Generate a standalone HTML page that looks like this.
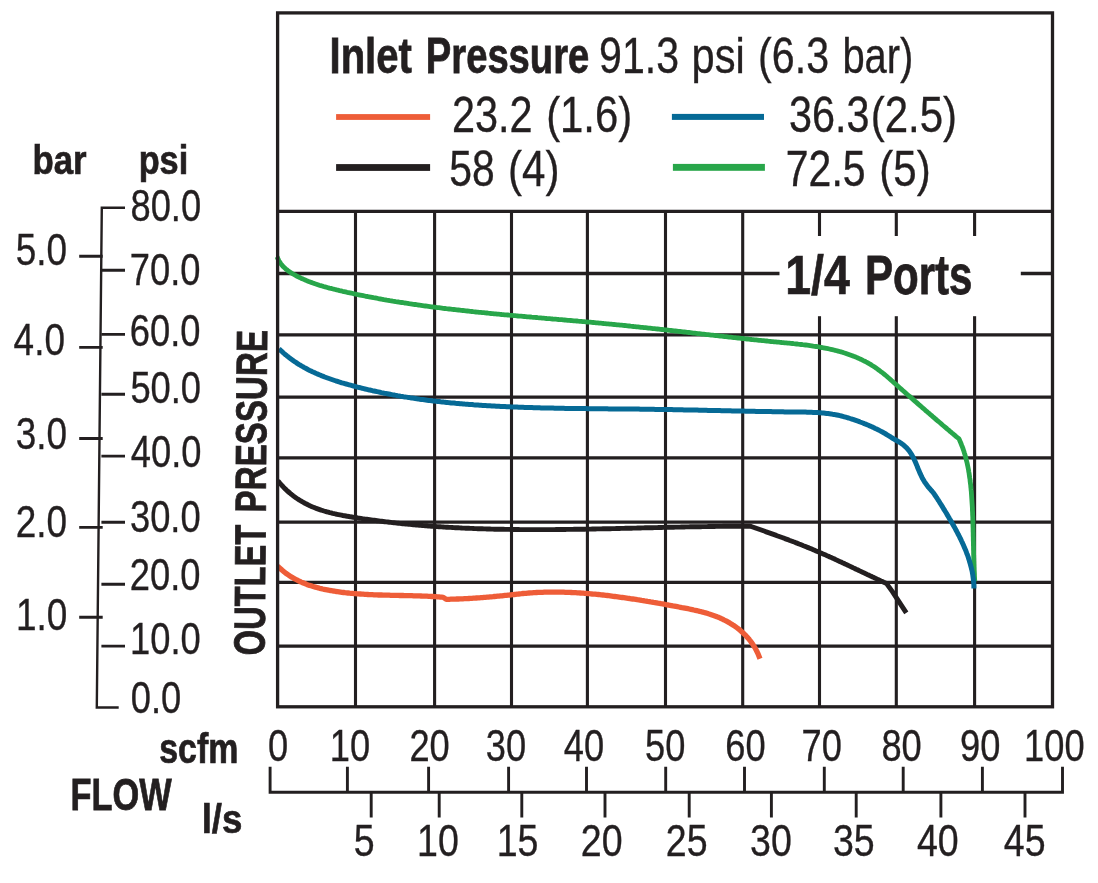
<!DOCTYPE html><html><head><meta charset="utf-8"><title>Outlet pressure vs flow - 1/4 Ports</title><style>html,body{margin:0;padding:0;background:#fff;}svg{display:block;font-family:"Liberation Sans",Arial,sans-serif;font-kerning:none;}text{fill:#231f20;}</style></head><body>
<svg width="1098" height="883" viewBox="0 0 1098 883">
<rect width="1098" height="883" fill="#fff"/>
<path d="M355.5 211.4 V706.7 M434.6 211.4 V706.7 M511.5 211.4 V706.7 M587.4 211.4 V706.7 M665.5 211.4 V706.7 M742.7 211.4 V706.7 M819.5 211.4 V706.7 M896.3 211.4 V706.7 M974.6 211.4 V706.7" stroke="#231f20" stroke-width="3.1" fill="none"/>
<path d="M277.5 646.2 H1052.4 M277.5 582.4 H1052.4 M277.5 522.2 H1052.4 M277.5 457.9 H1052.4 M277.5 397.2 H1052.4 M277.5 334.9 H1052.4 M277.5 273.5 H1052.4 M277.5 211.4 H1052.4" stroke="#231f20" stroke-width="3.3" fill="none"/>
<rect x="779.5" y="236" width="241.3" height="80.2" fill="#fff"/>
<text transform="translate(785.27 294.00) scale(0.8432 1)" font-size="55.09" font-weight="bold" stroke="#231f20" stroke-width="0.71">1/4</text>
<text transform="translate(864.88 294.00) scale(0.7644 1)" font-size="55.09" font-weight="bold" stroke="#231f20" stroke-width="0.78">Ports</text>
<g fill="none" stroke-linejoin="round">
<path d="M277.7 566.1 L278.8 567.2 L279.9 568.2 L281.1 569.3 L282.2 570.3 L283.4 571.3 L284.6 572.2 L285.8 573.2 L287.0 574.0 L288.3 574.9 L289.5 575.7 L290.8 576.6 L292.1 577.3 L293.4 578.1 L294.7 578.8 L296.0 579.5 L297.3 580.2 L298.6 580.9 L300.0 581.5 L301.3 582.1 L302.7 582.7 L304.1 583.3 L305.4 583.8 L306.8 584.4 L308.2 584.9 L309.6 585.4 L311.1 585.8 L312.5 586.3 L313.9 586.7 L315.4 587.1 L316.8 587.5 L318.3 587.9 L319.7 588.3 L321.2 588.6 L322.6 589.0 L324.1 589.3 L325.6 589.6 L327.1 589.9 L328.5 590.2 L330.0 590.5 L331.5 590.7 L333.0 591.0 L334.5 591.2 L336.0 591.5 L337.5 591.7 L339.0 591.9 L340.5 592.1 L342.0 592.3 L343.5 592.5 L345.0 592.7 L346.5 592.8 L348.0 593.0 L349.6 593.2 L351.1 593.3 L352.6 593.4 L354.1 593.6 L355.6 593.7 L357.1 593.8 L358.7 593.9 L360.2 594.0 L361.7 594.2 L363.2 594.2 L364.8 594.3 L366.3 594.4 L367.8 594.5 L369.3 594.6 L370.9 594.7 L372.4 594.7 L373.9 594.8 L375.4 594.8 L377.0 594.9 L378.5 595.0 L380.0 595.0 L381.5 595.0 L383.1 595.1 L384.6 595.1 L386.1 595.2 L387.6 595.2 L389.2 595.2 L390.7 595.3 L392.2 595.3 L393.7 595.3 L395.3 595.4 L396.8 595.4 L398.3 595.4 L399.8 595.5 L401.4 595.5 L402.9 595.5 L404.4 595.6 L405.9 595.6 L407.4 595.6 L408.9 595.7 L410.5 595.7 L412.0 595.7 L413.5 595.8 L415.0 595.8 L416.5 595.8 L418.0 595.9 L419.5 595.9 L421.0 596.0 L422.5 596.1 L424.0 596.1 L425.5 596.2 L427.0 596.2 L428.5 596.3 L430.0 596.4 L431.5 596.5 L433.0 596.5 L434.5 596.6 L435.9 596.7 L437.4 596.8 L438.9 596.9 L440.4 597.1 L441.8 597.2 L443.3 597.3 L446.3 599.4 L447.8 599.3 L449.3 599.3 L450.8 599.2 L452.3 599.2 L453.8 599.1 L455.3 599.1 L456.9 599.0 L458.4 599.0 L459.9 598.9 L461.4 598.9 L462.9 598.8 L464.4 598.7 L465.9 598.6 L467.4 598.6 L468.9 598.5 L470.4 598.4 L471.9 598.3 L473.4 598.2 L474.9 598.1 L476.4 598.0 L477.9 597.9 L479.4 597.8 L481.0 597.7 L482.5 597.6 L484.0 597.4 L485.5 597.3 L487.0 597.2 L488.5 597.1 L490.0 596.9 L491.5 596.8 L493.0 596.7 L494.5 596.5 L496.0 596.4 L497.5 596.2 L499.0 596.1 L500.5 595.9 L502.0 595.8 L503.5 595.6 L505.0 595.4 L506.5 595.3 L508.0 595.1 L509.5 595.0 L511.0 594.8 L512.5 594.6 L514.1 594.5 L515.6 594.3 L517.1 594.1 L518.6 594.0 L520.1 593.8 L521.6 593.7 L523.1 593.5 L524.6 593.4 L526.1 593.3 L527.6 593.1 L529.1 593.0 L530.6 592.9 L532.1 592.8 L533.6 592.7 L535.1 592.6 L536.6 592.5 L538.1 592.4 L539.6 592.4 L541.1 592.3 L542.7 592.3 L544.2 592.2 L545.7 592.2 L547.2 592.1 L548.7 592.1 L550.2 592.1 L551.7 592.1 L553.2 592.1 L554.7 592.1 L556.2 592.1 L557.7 592.1 L559.2 592.1 L560.7 592.1 L562.2 592.2 L563.8 592.2 L565.3 592.3 L566.8 592.3 L568.3 592.4 L569.8 592.4 L571.3 592.5 L572.8 592.6 L574.3 592.6 L575.8 592.7 L577.3 592.8 L578.8 592.9 L580.3 593.0 L581.8 593.1 L583.3 593.2 L584.8 593.3 L586.3 593.4 L587.8 593.6 L589.3 593.7 L590.8 593.8 L592.3 594.0 L593.8 594.1 L595.3 594.2 L596.8 594.4 L598.3 594.5 L599.8 594.7 L601.3 594.9 L602.8 595.0 L604.3 595.2 L605.8 595.4 L607.3 595.5 L608.8 595.7 L610.3 595.9 L611.8 596.1 L613.3 596.3 L614.8 596.5 L616.3 596.7 L617.8 596.9 L619.3 597.1 L620.8 597.3 L622.3 597.5 L623.8 597.7 L625.3 597.9 L626.7 598.1 L628.2 598.3 L629.7 598.5 L631.2 598.8 L632.7 599.0 L634.2 599.2 L635.7 599.4 L637.2 599.7 L638.7 599.9 L640.1 600.1 L641.6 600.4 L643.1 600.6 L644.6 600.9 L646.1 601.1 L647.6 601.4 L649.1 601.6 L650.6 601.9 L652.0 602.1 L653.5 602.4 L655.0 602.6 L656.5 602.9 L658.0 603.2 L659.5 603.4 L661.0 603.7 L662.5 603.9 L664.0 604.2 L665.4 604.5 L666.9 604.8 L668.4 605.0 L669.9 605.3 L671.4 605.6 L672.9 605.9 L674.4 606.1 L675.9 606.4 L677.4 606.7 L678.9 607.0 L680.4 607.3 L681.9 607.6 L683.4 607.8 L684.9 608.1 L686.4 608.4 L687.9 608.7 L689.3 609.0 L690.8 609.3 L692.3 609.6 L693.8 610.0 L695.3 610.3 L696.8 610.6 L698.3 611.0 L699.7 611.4 L701.2 611.7 L702.7 612.1 L704.1 612.5 L705.6 612.9 L707.0 613.3 L708.5 613.8 L709.9 614.2 L711.3 614.7 L712.8 615.2 L714.2 615.7 L715.6 616.2 L717.0 616.8 L718.4 617.3 L719.8 617.9 L721.1 618.5 L722.5 619.1 L723.8 619.8 L725.2 620.5 L726.5 621.2 L727.8 621.9 L729.1 622.6 L730.4 623.4 L731.7 624.2 L732.9 625.0 L734.2 625.8 L735.4 626.6 L736.6 627.5 L737.8 628.4 L739.0 629.3 L740.1 630.3 L741.2 631.3 L742.3 632.3 L743.4 633.3 L744.5 634.3 L745.6 635.4 L746.6 636.5 L747.6 637.6 L748.6 638.7 L749.5 639.9 L750.5 641.1 L751.4 642.3 L752.2 643.5 L753.1 644.8 L753.9 646.1 L754.7 647.4 L755.5 648.7 L756.2 650.1 L756.9 651.5 L757.6 652.9 L758.2 654.3 L758.8 655.8 L759.4 657.3 L760.0 658.8" stroke="#ee5d38" stroke-width="5.3"/>
<path d="M277.8 480.7 L278.8 481.9 L279.8 483.1 L280.9 484.3 L281.9 485.5 L283.0 486.6 L284.1 487.8 L285.2 488.9 L286.3 489.9 L287.4 491.0 L288.6 492.0 L289.8 493.0 L290.9 494.0 L292.1 494.9 L293.3 495.9 L294.5 496.8 L295.8 497.7 L297.0 498.5 L298.3 499.3 L299.5 500.2 L300.8 500.9 L302.1 501.7 L303.4 502.4 L304.7 503.2 L306.0 503.8 L307.4 504.5 L308.7 505.2 L310.0 505.8 L311.4 506.4 L312.8 507.0 L314.1 507.5 L315.5 508.1 L316.9 508.6 L318.3 509.1 L319.7 509.6 L321.1 510.1 L322.5 510.5 L324.0 511.0 L325.4 511.4 L326.8 511.8 L328.3 512.2 L329.7 512.6 L331.2 512.9 L332.6 513.3 L334.1 513.6 L335.6 514.0 L337.0 514.3 L338.5 514.6 L340.0 514.9 L341.5 515.2 L342.9 515.5 L344.4 515.7 L345.9 516.0 L347.4 516.3 L348.9 516.5 L350.4 516.8 L351.9 517.0 L353.4 517.3 L354.9 517.5 L356.4 517.7 L357.8 518.0 L359.3 518.2 L360.8 518.4 L362.3 518.7 L363.8 518.9 L365.3 519.1 L366.8 519.3 L368.3 519.5 L369.8 519.7 L371.3 519.9 L372.8 520.1 L374.3 520.3 L375.8 520.5 L377.3 520.7 L378.8 520.9 L380.3 521.1 L381.8 521.3 L383.3 521.5 L384.8 521.7 L386.3 521.9 L387.8 522.0 L389.3 522.2 L390.8 522.4 L392.3 522.6 L393.8 522.7 L395.3 522.9 L396.7 523.1 L398.2 523.2 L399.7 523.4 L401.2 523.5 L402.7 523.7 L404.2 523.8 L405.7 524.0 L407.2 524.1 L408.7 524.3 L410.2 524.4 L411.7 524.6 L413.2 524.7 L414.7 524.8 L416.2 525.0 L417.7 525.1 L419.2 525.2 L420.7 525.4 L422.2 525.5 L423.7 525.6 L425.2 525.7 L426.7 525.8 L428.2 526.0 L429.7 526.1 L431.2 526.2 L432.7 526.3 L434.2 526.4 L435.7 526.5 L437.3 526.6 L438.8 526.7 L440.3 526.8 L441.8 526.9 L443.3 527.0 L444.8 527.1 L446.3 527.2 L447.8 527.3 L449.3 527.4 L450.8 527.4 L452.3 527.5 L453.8 527.6 L455.3 527.7 L456.8 527.8 L458.3 527.8 L459.8 527.9 L461.3 528.0 L462.8 528.1 L464.3 528.1 L465.8 528.2 L467.3 528.3 L468.8 528.3 L470.3 528.4 L471.8 528.4 L473.3 528.5 L474.8 528.6 L476.3 528.6 L477.8 528.7 L479.3 528.7 L480.8 528.8 L482.3 528.8 L483.9 528.9 L485.4 528.9 L486.9 529.0 L488.4 529.0 L489.9 529.0 L491.4 529.1 L492.9 529.1 L494.4 529.2 L495.9 529.2 L497.4 529.2 L498.9 529.3 L500.4 529.3 L501.9 529.3 L503.4 529.3 L504.9 529.4 L506.4 529.4 L507.9 529.4 L509.4 529.4 L510.9 529.5 L512.5 529.5 L514.0 529.5 L515.5 529.5 L517.0 529.5 L518.5 529.5 L520.0 529.6 L521.5 529.6 L523.0 529.6 L524.5 529.6 L526.0 529.6 L527.5 529.6 L529.0 529.6 L530.5 529.6 L532.0 529.6 L533.5 529.6 L535.1 529.6 L536.6 529.6 L538.1 529.6 L539.6 529.6 L541.1 529.6 L542.6 529.6 L544.1 529.6 L545.6 529.6 L547.1 529.6 L548.6 529.6 L550.1 529.6 L551.6 529.6 L553.1 529.6 L554.6 529.6 L556.2 529.5 L557.7 529.5 L559.2 529.5 L560.7 529.5 L562.2 529.5 L563.7 529.5 L565.2 529.5 L566.7 529.4 L568.2 529.4 L569.7 529.4 L571.2 529.4 L572.7 529.4 L574.2 529.3 L575.8 529.3 L577.3 529.3 L578.8 529.3 L580.3 529.2 L581.8 529.2 L583.3 529.2 L584.8 529.2 L586.3 529.1 L587.8 529.1 L589.3 529.1 L590.8 529.1 L592.3 529.0 L593.8 529.0 L595.4 529.0 L596.9 528.9 L598.4 528.9 L599.9 528.9 L601.4 528.9 L602.9 528.8 L604.4 528.8 L605.9 528.8 L607.4 528.7 L608.9 528.7 L610.4 528.7 L611.9 528.6 L613.4 528.6 L615.0 528.6 L616.5 528.5 L618.0 528.5 L619.5 528.5 L621.0 528.4 L622.5 528.4 L624.0 528.4 L625.5 528.3 L627.0 528.3 L628.5 528.2 L630.0 528.2 L631.5 528.2 L633.0 528.1 L634.6 528.1 L636.1 528.1 L637.6 528.0 L639.1 528.0 L640.6 528.0 L642.1 527.9 L643.6 527.9 L645.1 527.8 L646.6 527.8 L648.1 527.8 L649.6 527.7 L651.1 527.7 L652.6 527.7 L654.1 527.6 L655.7 527.6 L657.2 527.6 L658.7 527.5 L660.2 527.5 L661.7 527.5 L663.2 527.4 L664.7 527.4 L666.2 527.4 L667.7 527.3 L669.2 527.3 L670.7 527.2 L672.2 527.2 L673.7 527.2 L675.2 527.1 L676.8 527.1 L678.3 527.1 L679.8 527.1 L681.3 527.0 L682.8 527.0 L684.3 527.0 L685.8 526.9 L687.3 526.9 L688.8 526.9 L690.3 526.8 L691.8 526.8 L693.3 526.8 L694.8 526.8 L696.3 526.7 L697.8 526.7 L699.3 526.7 L700.8 526.7 L702.4 526.6 L703.9 526.6 L705.4 526.6 L706.9 526.6 L708.4 526.5 L709.9 526.5 L711.4 526.5 L712.9 526.5 L714.4 526.5 L715.9 526.4 L717.4 526.4 L718.9 526.4 L720.4 526.4 L721.9 526.4 L723.4 526.3 L724.9 526.3 L726.4 526.3 L727.9 526.3 L729.4 526.3 L730.9 526.3 L732.4 526.3 L733.9 526.3 L735.4 526.3 L737.0 526.3 L738.5 526.2 L740.0 526.2 L741.5 526.2 L743.0 526.2 L744.5 526.2 L746.0 526.2 L747.5 526.2 L749.0 526.2 L750.5 526.2 L751.9 526.8 L753.4 527.3 L754.8 527.8 L756.2 528.3 L757.7 528.8 L759.1 529.3 L760.6 529.8 L762.0 530.3 L763.4 530.8 L764.9 531.3 L766.3 531.9 L767.7 532.4 L769.2 532.9 L770.6 533.4 L772.0 533.9 L773.5 534.4 L774.9 534.9 L776.3 535.4 L777.8 536.0 L779.2 536.5 L780.6 537.0 L782.1 537.5 L783.5 538.0 L784.9 538.6 L786.3 539.1 L787.8 539.6 L789.2 540.2 L790.6 540.7 L792.0 541.2 L793.5 541.8 L794.9 542.3 L796.3 542.9 L797.7 543.4 L799.1 544.0 L800.5 544.5 L801.9 545.1 L803.4 545.7 L804.8 546.2 L806.2 546.8 L807.6 547.4 L809.0 547.9 L810.4 548.5 L811.8 549.1 L813.2 549.7 L814.6 550.3 L816.0 550.9 L817.4 551.5 L818.8 552.1 L820.2 552.7 L821.6 553.3 L823.0 553.9 L824.4 554.5 L825.8 555.1 L827.1 555.7 L828.5 556.3 L829.9 557.0 L831.3 557.6 L832.7 558.2 L834.1 558.8 L835.5 559.5 L836.8 560.1 L838.2 560.8 L839.6 561.4 L841.0 562.0 L842.3 562.7 L843.7 563.3 L845.1 564.0 L846.5 564.6 L847.9 565.3 L849.2 565.9 L850.6 566.6 L852.0 567.2 L853.4 567.9 L854.7 568.5 L856.1 569.2 L857.5 569.8 L858.9 570.5 L860.2 571.1 L861.6 571.8 L863.0 572.4 L864.3 573.1 L865.7 573.7 L867.1 574.4 L868.5 575.0 L869.8 575.7 L871.2 576.3 L872.6 577.0 L874.0 577.6 L875.4 578.3 L876.7 578.9 L878.1 579.6 L879.5 580.2 L880.9 580.9 L882.3 581.5 L883.6 582.2 L885.0 582.8 L886.4 583.4 L892.4 591.6 L906.3 612.8" stroke="#231f20" stroke-width="4.9"/>
<path d="M277.1 256.8 L277.7 258.2 L278.3 259.6 L279.0 260.9 L279.8 262.2 L280.6 263.4 L281.5 264.6 L282.4 265.7 L283.4 266.8 L284.5 267.8 L285.6 268.8 L286.7 269.7 L287.9 270.7 L289.1 271.5 L290.4 272.4 L291.7 273.2 L293.0 274.0 L294.3 274.7 L295.6 275.4 L296.9 276.2 L298.3 276.8 L299.7 277.5 L301.0 278.2 L302.4 278.8 L303.8 279.4 L305.2 280.0 L306.6 280.6 L308.0 281.2 L309.4 281.7 L310.8 282.2 L312.2 282.8 L313.6 283.3 L315.0 283.8 L316.4 284.2 L317.9 284.7 L319.3 285.2 L320.7 285.6 L322.2 286.0 L323.6 286.5 L325.1 286.9 L326.5 287.3 L328.0 287.7 L329.4 288.1 L330.9 288.4 L332.3 288.8 L333.8 289.2 L335.2 289.5 L336.7 289.9 L338.2 290.2 L339.6 290.6 L341.1 290.9 L342.6 291.3 L344.0 291.6 L345.5 291.9 L347.0 292.3 L348.5 292.6 L349.9 292.9 L351.4 293.2 L352.9 293.5 L354.3 293.9 L355.8 294.2 L357.3 294.5 L358.8 294.8 L360.2 295.1 L361.7 295.4 L363.2 295.7 L364.7 296.0 L366.1 296.3 L367.6 296.5 L369.1 296.8 L370.6 297.1 L372.0 297.4 L373.5 297.7 L375.0 297.9 L376.5 298.2 L377.9 298.5 L379.4 298.8 L380.9 299.0 L382.4 299.3 L383.9 299.6 L385.3 299.8 L386.8 300.1 L388.3 300.3 L389.8 300.6 L391.3 300.8 L392.8 301.1 L394.2 301.3 L395.7 301.6 L397.2 301.8 L398.7 302.0 L400.2 302.3 L401.7 302.5 L403.1 302.7 L404.6 303.0 L406.1 303.2 L407.6 303.4 L409.1 303.7 L410.6 303.9 L412.1 304.1 L413.5 304.3 L415.0 304.5 L416.5 304.7 L418.0 305.0 L419.5 305.2 L421.0 305.4 L422.5 305.6 L424.0 305.8 L425.5 306.0 L426.9 306.2 L428.4 306.4 L429.9 306.6 L431.4 306.8 L432.9 307.0 L434.4 307.2 L435.9 307.4 L437.4 307.6 L438.9 307.7 L440.4 307.9 L441.9 308.1 L443.3 308.3 L444.8 308.5 L446.3 308.7 L447.8 308.8 L449.3 309.0 L450.8 309.2 L452.3 309.4 L453.8 309.5 L455.3 309.7 L456.8 309.9 L458.3 310.0 L459.8 310.2 L461.3 310.4 L462.8 310.5 L464.3 310.7 L465.8 310.9 L467.3 311.0 L468.8 311.2 L470.3 311.4 L471.7 311.5 L473.2 311.7 L474.7 311.8 L476.2 312.0 L477.7 312.1 L479.2 312.3 L480.7 312.4 L482.2 312.6 L483.7 312.7 L485.2 312.9 L486.7 313.0 L488.2 313.2 L489.7 313.3 L491.2 313.5 L492.7 313.6 L494.2 313.8 L495.7 313.9 L497.2 314.1 L498.7 314.2 L500.2 314.3 L501.7 314.5 L503.2 314.6 L504.7 314.8 L506.2 314.9 L507.7 315.0 L509.2 315.2 L510.7 315.3 L512.2 315.4 L513.7 315.6 L515.2 315.7 L516.7 315.8 L518.2 316.0 L519.7 316.1 L521.2 316.2 L522.7 316.4 L524.2 316.5 L525.7 316.6 L527.2 316.8 L528.7 316.9 L530.2 317.0 L531.7 317.2 L533.2 317.3 L534.7 317.4 L536.2 317.5 L537.7 317.7 L539.2 317.8 L540.7 317.9 L542.2 318.1 L543.7 318.2 L545.2 318.3 L546.7 318.5 L548.2 318.6 L549.7 318.7 L551.2 318.8 L552.7 319.0 L554.2 319.1 L555.7 319.2 L557.2 319.3 L558.7 319.5 L560.2 319.6 L561.7 319.7 L563.2 319.9 L564.7 320.0 L566.2 320.1 L567.7 320.3 L569.2 320.4 L570.7 320.5 L572.2 320.6 L573.7 320.8 L575.2 320.9 L576.7 321.0 L578.2 321.2 L579.7 321.3 L581.2 321.4 L582.7 321.6 L584.2 321.7 L585.7 321.8 L587.2 322.0 L588.7 322.1 L590.2 322.2 L591.7 322.4 L593.2 322.5 L594.7 322.6 L596.2 322.8 L597.7 322.9 L599.2 323.1 L600.7 323.2 L602.2 323.3 L603.7 323.5 L605.2 323.6 L606.7 323.8 L608.2 323.9 L609.7 324.1 L611.2 324.2 L612.6 324.4 L614.1 324.5 L615.6 324.6 L617.1 324.8 L618.6 324.9 L620.1 325.1 L621.6 325.2 L623.1 325.4 L624.6 325.5 L626.1 325.7 L627.6 325.9 L629.1 326.0 L630.6 326.2 L632.1 326.3 L633.6 326.5 L635.1 326.6 L636.6 326.8 L638.1 326.9 L639.5 327.1 L641.0 327.3 L642.5 327.4 L644.0 327.6 L645.5 327.7 L647.0 327.9 L648.5 328.1 L650.0 328.2 L651.5 328.4 L653.0 328.6 L654.5 328.7 L656.0 328.9 L657.5 329.0 L659.0 329.2 L660.5 329.4 L661.9 329.5 L663.4 329.7 L664.9 329.9 L666.4 330.0 L667.9 330.2 L669.4 330.4 L670.9 330.5 L672.4 330.7 L673.9 330.9 L675.4 331.0 L676.9 331.2 L678.4 331.4 L679.9 331.5 L681.3 331.7 L682.8 331.9 L684.3 332.0 L685.8 332.2 L687.3 332.4 L688.8 332.5 L690.3 332.7 L691.8 332.9 L693.3 333.1 L694.8 333.2 L696.3 333.4 L697.8 333.6 L699.3 333.7 L700.8 333.9 L702.3 334.1 L703.7 334.2 L705.2 334.4 L706.7 334.6 L708.2 334.7 L709.7 334.9 L711.2 335.1 L712.7 335.2 L714.2 335.4 L715.7 335.6 L717.2 335.7 L718.7 335.9 L720.2 336.1 L721.7 336.2 L723.2 336.4 L724.7 336.6 L726.2 336.7 L727.7 336.9 L729.2 337.1 L730.7 337.2 L732.2 337.4 L733.7 337.6 L735.1 337.7 L736.6 337.9 L738.1 338.0 L739.6 338.2 L741.1 338.4 L742.6 338.5 L744.1 338.7 L745.6 338.8 L747.1 339.0 L748.6 339.2 L750.1 339.3 L751.6 339.5 L753.1 339.6 L754.6 339.8 L756.1 339.9 L757.6 340.1 L759.1 340.3 L760.6 340.4 L762.1 340.6 L763.6 340.7 L765.1 340.9 L766.6 341.0 L768.1 341.2 L769.6 341.3 L771.1 341.5 L772.7 341.6 L774.2 341.8 L775.7 341.9 L777.2 342.1 L778.7 342.2 L780.2 342.3 L781.7 342.5 L783.2 342.6 L784.7 342.8 L786.2 342.9 L787.7 343.1 L789.2 343.2 L790.7 343.4 L792.2 343.5 L793.7 343.7 L795.2 343.8 L796.7 344.0 L798.2 344.2 L799.7 344.3 L801.2 344.5 L802.7 344.7 L804.2 344.8 L805.7 345.0 L807.2 345.2 L808.7 345.4 L810.2 345.6 L811.7 345.8 L813.2 346.1 L814.7 346.3 L816.1 346.5 L817.6 346.7 L819.1 347.0 L820.6 347.3 L822.0 347.5 L823.5 347.8 L825.0 348.1 L826.5 348.4 L827.9 348.7 L829.4 349.0 L830.8 349.3 L832.3 349.6 L833.8 350.0 L835.2 350.4 L836.7 350.7 L838.1 351.1 L839.5 351.5 L841.0 351.9 L842.4 352.3 L843.8 352.8 L845.3 353.2 L846.7 353.7 L848.1 354.2 L849.5 354.7 L850.9 355.2 L852.3 355.7 L853.7 356.3 L855.1 356.8 L856.5 357.4 L857.9 358.0 L859.3 358.6 L860.6 359.2 L862.0 359.9 L863.4 360.6 L864.7 361.2 L866.0 361.9 L867.4 362.6 L868.7 363.4 L870.0 364.1 L871.3 364.9 L872.5 365.7 L873.8 366.5 L875.0 367.3 L876.3 368.2 L877.5 369.1 L878.7 370.0 L879.9 370.9 L881.1 371.8 L882.3 372.7 L883.5 373.6 L884.7 374.6 L885.8 375.5 L887.0 376.5 L888.1 377.5 L889.3 378.5 L890.4 379.5 L891.5 380.5 L892.7 381.5 L893.8 382.5 L894.9 383.5 L896.1 384.5 L897.2 385.5 L898.3 386.5 L899.4 387.5 L900.6 388.5 L901.7 389.5 L902.8 390.5 L904.0 391.5 L905.1 392.5 L906.2 393.5 L907.3 394.5 L908.5 395.5 L909.6 396.4 L910.7 397.4 L911.9 398.4 L913.0 399.4 L914.1 400.4 L915.2 401.4 L916.4 402.4 L917.5 403.4 L918.6 404.4 L919.8 405.4 L920.9 406.3 L922.0 407.3 L923.2 408.3 L924.3 409.3 L925.4 410.3 L926.6 411.3 L927.7 412.3 L928.9 413.2 L930.0 414.2 L931.1 415.2 L932.3 416.2 L933.4 417.2 L934.5 418.1 L935.7 419.1 L936.8 420.1 L938.0 421.1 L939.1 422.0 L940.3 423.0 L941.4 424.0 L942.5 425.0 L943.7 426.0 L944.8 426.9 L946.0 427.9 L947.1 428.9 L948.3 429.8 L949.4 430.8 L950.6 431.8 L951.7 432.8 L952.9 433.7 L954.0 434.7 L955.2 435.7 L956.3 436.7 L957.5 437.6 L958.9 438.6 L959.5 440.0 L960.1 441.4 L960.7 442.8 L961.3 444.2 L961.8 445.6 L962.4 447.0 L962.9 448.4 L963.4 449.9 L963.9 451.3 L964.3 452.7 L964.8 454.2 L965.2 455.6 L965.6 457.1 L966.0 458.6 L966.3 460.0 L966.7 461.5 L967.1 463.0 L967.4 464.4 L967.7 465.9 L968.0 467.4 L968.3 468.9 L968.6 470.4 L968.8 471.9 L969.1 473.4 L969.3 474.9 L969.5 476.4 L969.7 477.9 L970.0 479.4 L970.1 480.9 L970.3 482.4 L970.5 483.9 L970.7 485.4 L970.8 486.9 L971.0 488.4 L971.1 490.0 L971.3 491.5 L971.4 493.0 L971.5 494.5 L971.6 496.1 L971.7 497.6 L971.8 499.1 L971.9 500.6 L972.0 502.2 L972.1 503.7 L972.2 505.2 L972.3 506.7 L972.4 508.3 L972.4 509.8 L972.5 511.3 L972.6 512.9 L972.6 514.4 L972.7 515.9 L972.8 517.5 L972.8 519.0 L972.9 520.5 L972.9 522.1 L972.9 523.6 L973.0 525.1 L973.0 526.7 L973.1 528.2 L973.1 529.7 L973.1 531.3 L973.2 532.8 L973.2 534.3 L973.2 535.9 L973.3 537.4 L973.3 538.9 L973.3 540.5 L973.4 542.0 L973.4 543.5 L973.4 545.0 L973.5 546.6 L973.5 548.1 L973.5 549.6 L973.6 551.1 L973.6 552.7 L973.6 554.2 L973.7 555.7 L973.7 557.2 L973.8 558.8 L973.8 560.3 L973.9 561.8 L973.9 563.3 L974.0 564.8 L974.0 566.3 L974.1 567.9 L974.1 569.4 L974.2 570.9 L974.3 572.4 L974.4 573.9 L974.4 575.4 L974.5 576.9 L974.6 578.4 L974.7 579.9 L974.8 581.4" stroke="#28a64a" stroke-width="4.8"/>
<path d="M279.0 348.8 L280.1 349.8 L281.2 350.9 L282.4 351.9 L283.5 353.0 L284.6 354.0 L285.8 354.9 L287.0 355.9 L288.2 356.8 L289.4 357.8 L290.6 358.7 L291.8 359.6 L293.0 360.4 L294.2 361.3 L295.5 362.1 L296.7 363.0 L298.0 363.8 L299.2 364.6 L300.5 365.3 L301.8 366.1 L303.1 366.8 L304.4 367.6 L305.7 368.3 L307.0 369.0 L308.3 369.7 L309.7 370.4 L311.0 371.0 L312.4 371.7 L313.7 372.3 L315.1 372.9 L316.4 373.5 L317.8 374.1 L319.2 374.7 L320.6 375.3 L321.9 375.9 L323.3 376.4 L324.7 377.0 L326.1 377.5 L327.5 378.0 L329.0 378.5 L330.4 379.0 L331.8 379.5 L333.2 380.0 L334.7 380.5 L336.1 381.0 L337.5 381.4 L339.0 381.9 L340.4 382.3 L341.8 382.8 L343.3 383.2 L344.7 383.6 L346.2 384.0 L347.6 384.4 L349.1 384.8 L350.6 385.2 L352.0 385.6 L353.5 386.0 L354.9 386.4 L356.4 386.8 L357.8 387.2 L359.3 387.5 L360.8 387.9 L362.2 388.3 L363.7 388.6 L365.2 389.0 L366.6 389.3 L368.1 389.7 L369.6 390.0 L371.0 390.3 L372.5 390.7 L374.0 391.0 L375.4 391.3 L376.9 391.6 L378.4 391.9 L379.8 392.2 L381.3 392.6 L382.8 392.9 L384.3 393.2 L385.7 393.4 L387.2 393.7 L388.7 394.0 L390.2 394.3 L391.6 394.6 L393.1 394.9 L394.6 395.1 L396.1 395.4 L397.6 395.7 L399.0 395.9 L400.5 396.2 L402.0 396.4 L403.5 396.7 L405.0 396.9 L406.4 397.1 L407.9 397.4 L409.4 397.6 L410.9 397.9 L412.4 398.1 L413.9 398.3 L415.3 398.5 L416.8 398.7 L418.3 398.9 L419.8 399.2 L421.3 399.4 L422.8 399.6 L424.3 399.8 L425.7 400.0 L427.2 400.2 L428.7 400.4 L430.2 400.5 L431.7 400.7 L433.2 400.9 L434.7 401.1 L436.2 401.3 L437.7 401.4 L439.2 401.6 L440.6 401.8 L442.1 401.9 L443.6 402.1 L445.1 402.2 L446.6 402.4 L448.1 402.6 L449.6 402.7 L451.1 402.9 L452.6 403.0 L454.1 403.1 L455.6 403.3 L457.1 403.4 L458.6 403.5 L460.1 403.7 L461.6 403.8 L463.1 403.9 L464.6 404.1 L466.1 404.2 L467.6 404.3 L469.1 404.4 L470.6 404.5 L472.1 404.6 L473.6 404.8 L475.1 404.9 L476.6 405.0 L478.1 405.1 L479.6 405.2 L481.1 405.3 L482.6 405.4 L484.1 405.5 L485.6 405.6 L487.1 405.7 L488.6 405.7 L490.1 405.8 L491.6 405.9 L493.1 406.0 L494.6 406.1 L496.1 406.2 L497.6 406.2 L499.1 406.3 L500.6 406.4 L502.1 406.5 L503.6 406.5 L505.1 406.6 L506.6 406.7 L508.1 406.7 L509.6 406.8 L511.1 406.9 L512.6 406.9 L514.1 407.0 L515.6 407.1 L517.1 407.1 L518.6 407.2 L520.1 407.2 L521.6 407.3 L523.1 407.3 L524.6 407.4 L526.1 407.4 L527.6 407.5 L529.1 407.5 L530.6 407.6 L532.1 407.6 L533.6 407.7 L535.1 407.7 L536.6 407.7 L538.1 407.8 L539.6 407.8 L541.1 407.9 L542.6 407.9 L544.1 407.9 L545.6 408.0 L547.1 408.0 L548.6 408.0 L550.1 408.1 L551.6 408.1 L553.1 408.1 L554.6 408.2 L556.1 408.2 L557.6 408.2 L559.2 408.3 L560.7 408.3 L562.2 408.3 L563.7 408.3 L565.2 408.4 L566.7 408.4 L568.2 408.4 L569.7 408.4 L571.2 408.4 L572.7 408.5 L574.2 408.5 L575.7 408.5 L577.2 408.5 L578.7 408.5 L580.2 408.6 L581.7 408.6 L583.2 408.6 L584.7 408.6 L586.2 408.6 L587.7 408.7 L589.2 408.7 L590.7 408.7 L592.2 408.7 L593.7 408.7 L595.2 408.7 L596.7 408.7 L598.2 408.8 L599.7 408.8 L601.2 408.8 L602.7 408.8 L604.2 408.8 L605.8 408.8 L607.3 408.8 L608.8 408.9 L610.3 408.9 L611.8 408.9 L613.3 408.9 L614.8 408.9 L616.3 408.9 L617.8 408.9 L619.3 409.0 L620.8 409.0 L622.3 409.0 L623.8 409.0 L625.3 409.0 L626.8 409.0 L628.3 409.0 L629.8 409.1 L631.3 409.1 L632.8 409.1 L634.3 409.1 L635.8 409.1 L637.3 409.1 L638.8 409.1 L640.3 409.2 L641.8 409.2 L643.3 409.2 L644.8 409.2 L646.3 409.2 L647.8 409.3 L649.3 409.3 L650.8 409.3 L652.3 409.3 L653.8 409.3 L655.3 409.4 L656.8 409.4 L658.4 409.4 L659.9 409.4 L661.4 409.5 L662.9 409.5 L664.4 409.5 L665.9 409.5 L667.4 409.6 L668.9 409.6 L670.4 409.6 L671.9 409.6 L673.4 409.7 L674.9 409.7 L676.4 409.7 L677.9 409.7 L679.4 409.8 L680.9 409.8 L682.4 409.8 L683.9 409.9 L685.4 409.9 L686.9 409.9 L688.4 409.9 L689.9 410.0 L691.4 410.0 L692.9 410.0 L694.4 410.1 L695.9 410.1 L697.4 410.1 L698.9 410.2 L700.4 410.2 L701.9 410.2 L703.4 410.3 L704.9 410.3 L706.4 410.3 L707.9 410.4 L709.4 410.4 L710.9 410.4 L712.4 410.5 L713.9 410.5 L715.4 410.5 L716.9 410.6 L718.4 410.6 L719.9 410.6 L721.4 410.7 L722.9 410.7 L724.4 410.7 L725.9 410.7 L727.5 410.8 L729.0 410.8 L730.5 410.8 L732.0 410.9 L733.5 410.9 L735.0 410.9 L736.5 411.0 L738.0 411.0 L739.5 411.0 L741.0 411.1 L742.5 411.1 L744.0 411.1 L745.5 411.2 L747.0 411.2 L748.5 411.2 L750.0 411.3 L751.5 411.3 L753.0 411.3 L754.5 411.3 L756.0 411.4 L757.5 411.4 L759.0 411.4 L760.5 411.5 L762.0 411.5 L763.5 411.5 L765.0 411.5 L766.5 411.6 L768.0 411.6 L769.5 411.6 L771.0 411.6 L772.5 411.7 L774.0 411.7 L775.5 411.7 L777.0 411.7 L778.5 411.8 L780.0 411.8 L781.6 411.8 L783.1 411.8 L784.6 411.9 L786.1 411.9 L787.6 411.9 L789.1 411.9 L790.6 411.9 L792.1 412.0 L793.6 412.0 L795.1 412.0 L796.6 412.0 L798.1 412.0 L799.6 412.0 L801.1 412.1 L802.6 412.1 L804.1 412.1 L805.6 412.1 L807.1 412.2 L808.6 412.2 L810.1 412.2 L811.6 412.3 L813.1 412.4 L814.6 412.4 L816.1 412.5 L817.6 412.6 L819.1 412.7 L820.6 412.8 L822.1 412.9 L823.6 413.0 L825.1 413.2 L826.6 413.4 L828.1 413.5 L829.5 413.7 L831.0 413.9 L832.5 414.2 L834.0 414.4 L835.5 414.7 L836.9 415.0 L838.4 415.3 L839.9 415.6 L841.4 416.0 L842.8 416.4 L844.3 416.8 L845.7 417.2 L847.2 417.6 L848.6 418.0 L850.1 418.5 L851.5 419.0 L853.0 419.4 L854.4 419.9 L855.8 420.4 L857.3 420.9 L858.7 421.4 L860.1 422.0 L861.5 422.5 L862.9 423.0 L864.3 423.6 L865.7 424.1 L867.1 424.7 L868.5 425.3 L869.8 425.9 L871.2 426.5 L872.6 427.1 L873.9 427.7 L875.3 428.4 L876.6 429.0 L878.0 429.7 L879.3 430.4 L880.6 431.1 L881.9 431.8 L883.2 432.5 L884.5 433.2 L885.8 434.0 L887.1 434.8 L888.4 435.6 L889.7 436.4 L890.9 437.2 L892.2 438.0 L893.5 438.8 L894.8 439.5 L896.1 440.3 L897.4 441.0 L898.7 441.8 L900.0 442.5 L901.2 443.3 L902.4 444.2 L903.6 445.1 L904.7 446.1 L905.8 447.1 L906.9 448.1 L907.9 449.3 L908.8 450.4 L909.7 451.6 L910.5 452.8 L911.3 454.1 L912.1 455.4 L912.8 456.7 L913.5 458.0 L914.2 459.4 L914.8 460.8 L915.4 462.1 L916.0 463.5 L916.6 464.9 L917.2 466.4 L917.7 467.8 L918.3 469.2 L918.9 470.6 L919.5 472.0 L920.1 473.4 L920.7 474.7 L921.4 476.1 L922.0 477.4 L922.7 478.8 L923.5 480.1 L924.2 481.3 L925.0 482.6 L925.9 483.8 L926.8 485.0 L927.7 486.2 L928.6 487.4 L929.6 488.5 L930.6 489.6 L931.6 490.8 L932.6 491.9 L933.5 493.1 L934.4 494.3 L935.2 495.5 L936.1 496.8 L936.9 498.0 L937.7 499.3 L938.5 500.5 L939.3 501.8 L940.1 503.1 L940.9 504.3 L941.7 505.6 L942.5 506.9 L943.3 508.2 L944.0 509.5 L944.8 510.7 L945.6 512.0 L946.4 513.3 L947.1 514.6 L947.9 515.9 L948.7 517.2 L949.4 518.5 L950.2 519.8 L951.0 521.1 L951.7 522.4 L952.5 523.7 L953.2 525.0 L953.9 526.3 L954.7 527.6 L955.4 528.9 L956.1 530.3 L956.8 531.6 L957.5 532.9 L958.2 534.3 L958.9 535.6 L959.6 536.9 L960.2 538.3 L960.9 539.6 L961.5 541.0 L962.2 542.4 L962.8 543.7 L963.4 545.1 L964.0 546.5 L964.6 547.9 L965.2 549.2 L965.8 550.6 L966.3 552.0 L966.8 553.4 L967.4 554.8 L967.9 556.3 L968.4 557.7 L968.8 559.1 L969.3 560.5 L969.7 562.0 L970.1 563.4 L970.5 564.8 L970.9 566.3 L971.3 567.7 L971.6 569.2 L972.0 570.7 L972.3 572.1 L972.5 573.6 L972.8 575.1 L973.0 576.6 L973.2 578.1 L973.4 579.6 L973.6 581.1 L973.7 582.6 L973.8 584.1 L973.9 585.6 L973.9 587.1 L973.9 588.6" stroke="#066a96" stroke-width="5.0"/>
</g>
<rect x="277.6" y="12.9" width="774.9" height="693.9" fill="none" stroke="#231f20" stroke-width="3.3"/>
<text transform="translate(329.52 72.80) scale(0.8037 1)" font-size="49.86" font-weight="bold" stroke="#231f20" stroke-width="0.75">Inlet</text>
<text transform="translate(425.85 72.80) scale(0.7659 1)" font-size="49.86" font-weight="bold" stroke="#231f20" stroke-width="0.78">Pressure</text>
<text transform="translate(599.12 72.80) scale(0.8237 1)" font-size="49.86" font-weight="normal" stroke="#231f20" stroke-width="0.36">91.3</text>
<text transform="translate(691.57 72.80) scale(0.8345 1)" font-size="49.86" font-weight="normal" stroke="#231f20" stroke-width="0.36">psi</text>
<text transform="translate(758.10 72.80) scale(0.8260 1)" font-size="49.86" font-weight="normal" stroke="#231f20" stroke-width="0.36">(6.3</text>
<text transform="translate(842.38 72.80) scale(0.8002 1)" font-size="49.86" font-weight="normal" stroke="#231f20" stroke-width="0.37">bar)</text>
<rect x="336.1" y="114.1" width="94" height="5.8" fill="#ee5d38"/>
<rect x="336.1" y="164.1" width="94" height="6.8" fill="#231f20"/>
<rect x="671.9" y="113.9" width="92.1" height="6.0" fill="#066a96"/>
<rect x="672.9" y="163.9" width="92.0" height="6.9" fill="#28a64a"/>
<text transform="translate(451.97 131.90) scale(0.8362 1)" font-size="49.56" font-weight="normal" stroke="#231f20" stroke-width="0.36">23.2</text>
<text transform="translate(546.15 131.90) scale(0.8448 1)" font-size="49.56" font-weight="normal" stroke="#231f20" stroke-width="0.36">(1.6)</text>
<text transform="translate(789.07 131.90) scale(0.8344 1)" font-size="49.56" font-weight="normal" stroke="#231f20" stroke-width="0.36">36.3</text>
<text transform="translate(870.64 131.90) scale(0.8479 1)" font-size="49.56" font-weight="normal" stroke="#231f20" stroke-width="0.35">(2.5)</text>
<text transform="translate(449.32 185.50) scale(0.8188 1)" font-size="49.86" font-weight="normal" stroke="#231f20" stroke-width="0.37">58</text>
<text transform="translate(508.04 185.50) scale(0.8439 1)" font-size="49.86" font-weight="normal" stroke="#231f20" stroke-width="0.36">(4)</text>
<text transform="translate(785.85 185.50) scale(0.8216 1)" font-size="49.86" font-weight="normal" stroke="#231f20" stroke-width="0.37">72.5</text>
<text transform="translate(879.35 185.50) scale(0.8420 1)" font-size="49.86" font-weight="normal" stroke="#231f20" stroke-width="0.36">(5)</text>
<text transform="translate(32.41 173.70) scale(0.8372 1)" font-size="41.54" font-weight="bold" stroke="#231f20" stroke-width="0.72">bar</text>
<text transform="translate(138.64 173.70) scale(0.8263 1)" font-size="41.54" font-weight="bold" stroke="#231f20" stroke-width="0.73">psi</text>
<path d="M125 207.7 H101.8 L96.8 707.5 H118.7" stroke="#231f20" stroke-width="2.4" fill="none"/>
<path d="M101.4 270.2 H125 M101.4 334.4 H125 M101.4 394.2 H125 M101.4 456.1 H125 M101.4 522.3 H125 M101.4 584.2 H125 M101.4 646.1 H125 M79.2 256.2 H102.7 M79.2 347.4 H102.7 M79.2 438.5 H102.7 M79.2 527.4 H102.7 M79.2 617.3 H102.7" stroke="#231f20" stroke-width="2.9" fill="none"/>
<text transform="translate(130.47 221.40) scale(0.8327 1)" font-size="43.61" font-weight="normal" stroke="#231f20" stroke-width="0.36">80.0</text>
<text transform="translate(129.79 284.60) scale(0.8327 1)" font-size="43.61" font-weight="normal" stroke="#231f20" stroke-width="0.36">70.0</text>
<text transform="translate(129.81 346.45) scale(0.8327 1)" font-size="43.61" font-weight="normal" stroke="#231f20" stroke-width="0.36">60.0</text>
<text transform="translate(130.40 403.45) scale(0.8327 1)" font-size="43.61" font-weight="normal" stroke="#231f20" stroke-width="0.36">50.0</text>
<text transform="translate(130.82 467.30) scale(0.8327 1)" font-size="43.61" font-weight="normal" stroke="#231f20" stroke-width="0.36">40.0</text>
<text transform="translate(129.97 531.55) scale(0.8327 1)" font-size="43.61" font-weight="normal" stroke="#231f20" stroke-width="0.36">30.0</text>
<text transform="translate(129.82 589.65) scale(0.8327 1)" font-size="43.61" font-weight="normal" stroke="#231f20" stroke-width="0.36">20.0</text>
<text transform="translate(130.08 653.55) scale(0.8327 1)" font-size="43.61" font-weight="normal" stroke="#231f20" stroke-width="0.36">10.0</text>
<text transform="translate(130.73 713.45) scale(0.8327 1)" font-size="43.61" font-weight="normal" stroke="#231f20" stroke-width="0.36">0.0</text>
<text transform="translate(15.77 264.50) scale(0.8466 1)" font-size="43.61" font-weight="normal" stroke="#231f20" stroke-width="0.35">5.0</text>
<text transform="translate(13.60 354.55) scale(0.8466 1)" font-size="43.61" font-weight="normal" stroke="#231f20" stroke-width="0.35">4.0</text>
<text transform="translate(15.84 448.50) scale(0.8466 1)" font-size="43.61" font-weight="normal" stroke="#231f20" stroke-width="0.35">3.0</text>
<text transform="translate(15.69 536.60) scale(0.8466 1)" font-size="43.61" font-weight="normal" stroke="#231f20" stroke-width="0.35">2.0</text>
<text transform="translate(16.04 629.60) scale(0.8466 1)" font-size="43.61" font-weight="normal" stroke="#231f20" stroke-width="0.35">1.0</text>
<g transform="translate(264.6 654.4) rotate(-89.56)"><text transform="translate(-1.04 0.00) scale(0.7463 1)" font-size="43.75" font-weight="bold" stroke="#231f20" stroke-width="0.80">OUTLET</text><text transform="translate(141.68 0.00) scale(0.7591 1)" font-size="43.75" font-weight="bold" stroke="#231f20" stroke-width="0.79">PRESSURE</text></g>
<text transform="translate(159.21 762.90) scale(0.8113 1)" font-size="41.82" font-weight="bold" stroke="#231f20" stroke-width="0.74">scfm</text>
<text transform="translate(70.50 809.80) scale(0.7809 1)" font-size="44.04" font-weight="bold" stroke="#231f20" stroke-width="0.77">FLOW</text>
<text transform="translate(201.64 832.90) scale(0.8856 1)" font-size="41.40" font-weight="bold" stroke="#231f20" stroke-width="0.68">l/s</text>
<path d="M270.1 766.8 V792.2 H1062.5 V766.8 M347.4 766.8 V792.2 M428.6 766.8 V792.2 M508.6 766.8 V792.2 M586.5 766.8 V792.2 M665.7 766.8 V792.2 M744.5 766.8 V792.2 M824.3 766.8 V792.2 M903.2 766.8 V792.2 M982.4 766.8 V792.2 M371.2 792.2 V817.4 M439.2 792.2 V817.4 M521.8 792.2 V817.4 M605.0 792.2 V817.4 M689.2 792.2 V817.4 M771.4 792.2 V817.4 M856.2 792.2 V817.4 M940.9 792.2 V817.4 M1025.0 792.2 V817.4" stroke="#231f20" stroke-width="2.9" fill="none"/>
<text transform="translate(268.06 760.90) scale(0.8154 1)" font-size="44.48" font-weight="normal" stroke="#231f20" stroke-width="0.37">0</text>
<text transform="translate(329.86 760.90) scale(0.8154 1)" font-size="44.48" font-weight="normal" stroke="#231f20" stroke-width="0.37">10</text>
<text transform="translate(409.43 760.90) scale(0.8154 1)" font-size="44.48" font-weight="normal" stroke="#231f20" stroke-width="0.37">20</text>
<text transform="translate(485.75 760.90) scale(0.8154 1)" font-size="44.48" font-weight="normal" stroke="#231f20" stroke-width="0.37">30</text>
<text transform="translate(563.82 760.90) scale(0.8154 1)" font-size="44.48" font-weight="normal" stroke="#231f20" stroke-width="0.37">40</text>
<text transform="translate(644.96 760.90) scale(0.8154 1)" font-size="44.48" font-weight="normal" stroke="#231f20" stroke-width="0.37">50</text>
<text transform="translate(725.22 760.90) scale(0.8154 1)" font-size="44.48" font-weight="normal" stroke="#231f20" stroke-width="0.37">60</text>
<text transform="translate(801.46 760.90) scale(0.8154 1)" font-size="44.48" font-weight="normal" stroke="#231f20" stroke-width="0.37">70</text>
<text transform="translate(881.45 760.90) scale(0.8154 1)" font-size="44.48" font-weight="normal" stroke="#231f20" stroke-width="0.37">80</text>
<text transform="translate(959.99 760.90) scale(0.8154 1)" font-size="44.48" font-weight="normal" stroke="#231f20" stroke-width="0.37">90</text>
<text transform="translate(1024.07 760.90) scale(0.8154 1)" font-size="44.48" font-weight="normal" stroke="#231f20" stroke-width="0.37">100</text>
<text transform="translate(353.70 855.80) scale(0.8495 1)" font-size="44.19" font-weight="normal" stroke="#231f20" stroke-width="0.35">5</text>
<text transform="translate(417.08 855.80) scale(0.8495 1)" font-size="44.19" font-weight="normal" stroke="#231f20" stroke-width="0.35">10</text>
<text transform="translate(496.68 855.80) scale(0.8495 1)" font-size="44.19" font-weight="normal" stroke="#231f20" stroke-width="0.35">15</text>
<text transform="translate(580.86 855.80) scale(0.8495 1)" font-size="44.19" font-weight="normal" stroke="#231f20" stroke-width="0.35">20</text>
<text transform="translate(665.77 855.80) scale(0.8495 1)" font-size="44.19" font-weight="normal" stroke="#231f20" stroke-width="0.35">25</text>
<text transform="translate(750.09 855.80) scale(0.8495 1)" font-size="44.19" font-weight="normal" stroke="#231f20" stroke-width="0.35">30</text>
<text transform="translate(832.90 855.80) scale(0.8495 1)" font-size="44.19" font-weight="normal" stroke="#231f20" stroke-width="0.35">35</text>
<text transform="translate(916.93 855.80) scale(0.8495 1)" font-size="44.19" font-weight="normal" stroke="#231f20" stroke-width="0.35">40</text>
<text transform="translate(1003.83 855.80) scale(0.8495 1)" font-size="44.19" font-weight="normal" stroke="#231f20" stroke-width="0.35">45</text>
</svg></body></html>
